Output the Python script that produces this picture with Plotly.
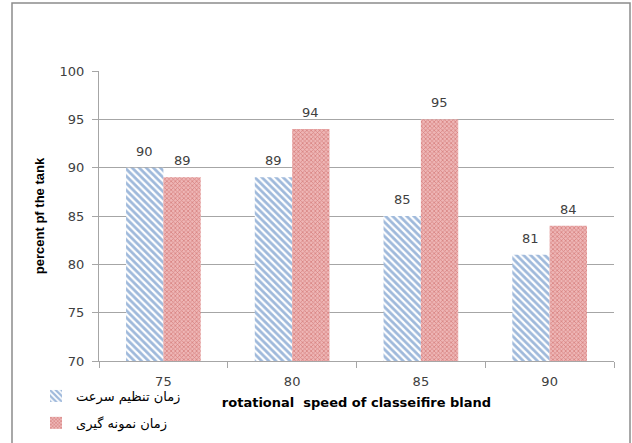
import plotly.graph_objects as go

categories = ["75", "80", "85", "90"]
speed_setting_time = [90, 89, 85, 81]
sampling_time = [89, 94, 95, 84]
series_names = ["زمان تنظیم سرعت", "زمان نمونه گیری"]
y_ticks = [70, 75, 80, 85, 90, 95, 100]

W, H = 632, 443
L, R, T, B = 99, 18, 71, 82
pw, ph = W - L - R, H - T - B

def px_x(p):
    return (p - L) / pw

def px_y(p):
    return (H - B - p) / ph

fig = go.Figure()
fig.add_trace(go.Bar(
    x=categories, y=speed_setting_time, name=series_names[0],
    legendgroup="a",
    marker=dict(color="white", line=dict(width=0),
                pattern=dict(shape="\\", fgcolor="#3f74b8", bgcolor="white",
                             size=5, solidity=0.55, fillmode="overlay")),
))
fig.add_trace(go.Bar(
    x=categories, y=sampling_time, name=series_names[1],
    legendgroup="b",
    marker=dict(color="#e8a4a4", line=dict(width=0),
                pattern=dict(shape="x", fgcolor="#c0504d", bgcolor="#eeb6b6",
                             size=3, solidity=0.45, fillmode="overlay")),
))

bar_offset = (1 - 0.42) / 4 * (pw / len(categories))
annotations = []
for vals, sh in ((speed_setting_time, -bar_offset), (sampling_time, bar_offset)):
    for i, v in enumerate(vals):
        annotations.append(dict(
            x=i, y=v, xref="x", yref="y", text=str(v), showarrow=False,
            xshift=sh, yshift=7, yanchor="bottom",
            font=dict(family="DejaVu Sans", size=13, color="#404040"),
        ))

fig.update_layout(
    width=W, height=H,
    margin=dict(l=L, r=R, t=T, b=B, autoexpand=False),
    paper_bgcolor="white", plot_bgcolor="white",
    barmode="group", bargap=0.42, bargroupgap=0,
    annotations=annotations,
    showlegend=True,
    legend=dict(x=px_x(36), y=px_y(381), xanchor="left", yanchor="top",
                orientation="v", tracegroupgap=7, itemwidth=30,
                font=dict(family="DejaVu Sans", size=13, color="#000000"),
                bgcolor="rgba(0,0,0,0)"),
    font=dict(family="DejaVu Sans", color="#404040"),
    shapes=[dict(type="rect", xref="paper", yref="paper",
                 x0=px_x(12), x1=px_x(630), y0=px_y(460), y1=px_y(3),
                 line=dict(color="#8c8c8c", width=1.5), layer="below")],
)

fig.update_xaxes(
    type="category", showgrid=False, showline=True, linecolor="#a6a6a6", linewidth=1,
    ticks="outside", ticklen=6, tickcolor="#a6a6a6", tickson="boundaries",
    tickangle=0, ticklabelstandoff=8,
    tickfont=dict(family="DejaVu Sans", size=13, color="#404040"),
    title=dict(text="rotational  speed of classeifire bland",
               font=dict(family="DejaVu Sans", size=13, color="#000000", weight="bold"),
               standoff=10),
)
fig.update_yaxes(
    range=[70, 100], tickvals=y_ticks, showgrid=True, gridcolor="#a6a6a6", gridwidth=1,
    showline=True, linecolor="#a6a6a6", linewidth=1,
    ticks="outside", ticklen=6, tickcolor="#a6a6a6", ticklabelstandoff=5,
    tickfont=dict(family="DejaVu Sans", size=13, color="#404040"),
    title=dict(text="percent pf the tank",
               font=dict(family="Liberation Sans", size=13, color="#000000", weight="bold"),
               standoff=12),
)

fig.write_html("out.html", config={"displayModeBar": False},
               post_script="document.body.style.margin='0';")
